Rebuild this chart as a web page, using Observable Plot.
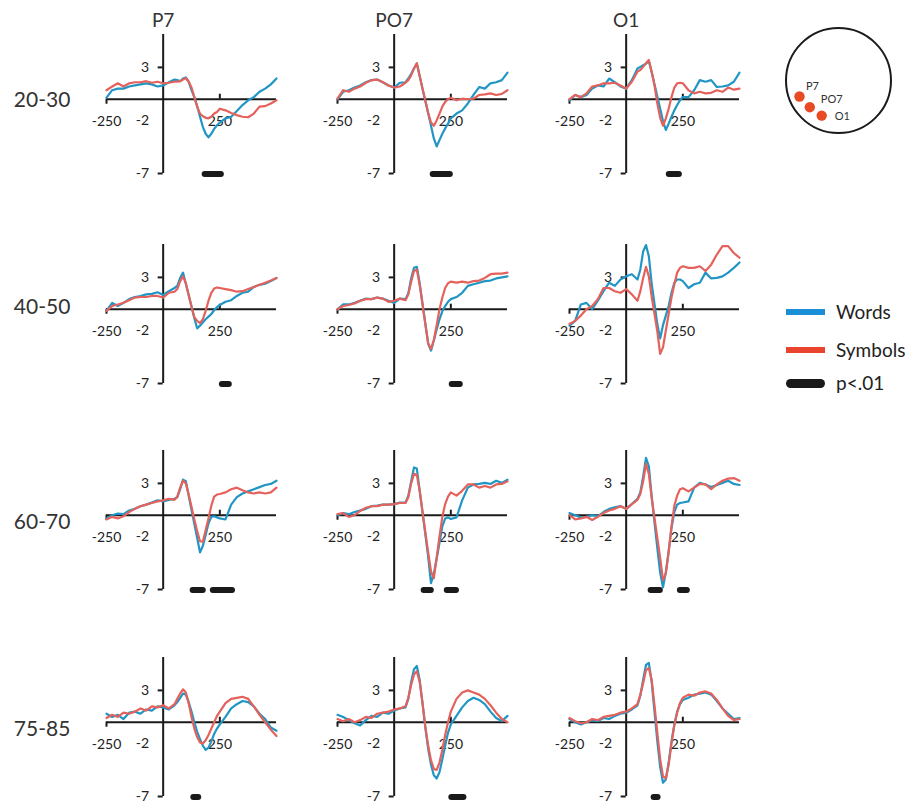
<!DOCTYPE html>
<html><head><meta charset="utf-8">
<script src="https://cdn.jsdelivr.net/npm/d3@7"></script>
<script src="https://cdn.jsdelivr.net/npm/@observablehq/plot@0.6"></script>
<style>
html,body{margin:0;padding:0;background:#fff;}
#chart{position:relative;width:909px;height:805px;overflow:hidden;font-family:Lato,"Open Sans",sans-serif;color:#222;background:#fff;}
#chart svg{position:absolute;}
.sw{position:absolute;left:786px;width:39px;}
.lt{position:absolute;left:836px;font-size:19px;line-height:20px;color:#222;white-space:nowrap;}
</style></head>
<body><div id="chart"></div>
<script>
// ---------- data ----------
const electrodes = ["P7", "PO7", "O1"];
const ageGroups = ["20-30", "40-50", "60-70", "75-85"];
const times = [-250,-225,-200,-175,-150,-125,-100,-75,-50,-25,0,25,50,62.5,75,87.5,100,112.5,125,137.5,150,162.5,175,187.5,200,212.5,225,237.5,250,275,300,325,350,375,400,425,450,475,500];

const words_2030_P7 = [0.15,0.85,1.0,1.0,1.2,1.3,1.4,1.5,1.4,1.2,1.3,1.6,1.85,1.8,1.7,1.95,2.05,1.65,0.85,0.2,-0.65,-1.65,-2.6,-3.25,-3.6,-3.25,-2.8,-2.45,-2.2,-1.8,-1.65,-1.1,-0.55,-0.1,0.2,0.7,1.0,1.4,1.95];
const symbols_2030_P7 = [0.85,1.2,1.5,1.2,1.5,1.6,1.6,1.7,1.55,1.65,1.5,1.55,1.65,1.65,1.7,1.85,2.0,1.65,1.1,0.2,-0.7,-1.35,-1.6,-1.75,-1.8,-1.65,-1.35,-1.2,-0.9,-1.05,-1.3,-1.5,-1.65,-1.7,-1.35,-0.7,-0.65,-0.4,-0.1];
const words_2030_PO7 = [0,0.7,0.85,1.1,1.3,1.6,1.8,1.85,1.6,1.3,1.1,1.55,1.6,1.95,2.4,2.9,3.35,2.2,1.0,-0.15,-1.3,-2.5,-3.7,-4.45,-3.85,-3.25,-2.75,-2.3,-1.8,-1.35,-1.05,-0.4,0.4,1.15,1.0,1.5,1.6,1.8,2.5];
const symbols_2030_PO7 = [0.05,0.85,0.7,1.0,1.2,1.55,1.8,1.85,1.6,1.3,1.1,1.2,1.55,1.8,2.25,2.9,3.4,2.2,1.0,-0.15,-1.3,-2.2,-2.5,-2.0,-1.35,-0.7,-0.25,0,0.15,-0.1,0.05,0,0.05,0.4,0.45,0.55,0.4,0.5,0.85];
const words_2030_O1 = [-0.1,0.4,0.2,0.4,1.0,1.3,1.2,1.95,1.6,1.2,1.0,1.8,2.9,3.05,3.2,3.35,3.6,2.55,1.4,0.25,-0.9,-2.05,-2.9,-2.3,-1.65,-1.05,-0.55,-0.1,0.2,0.2,0.85,1.8,1.65,1.8,1.15,1.2,1.3,1.65,2.5];
const symbols_2030_O1 = [0,0.4,0.2,0.55,1.2,1.3,1.5,1.5,1.55,1.3,1.0,1.65,2.6,2.75,3.05,3.4,3.7,2.6,1.3,-0.4,-1.75,-2.5,-1.8,-0.9,0.2,1.1,1.5,1.55,1.5,0.85,0.55,0.7,0.55,0.6,0.85,0.7,1.1,0.9,1.0];

const words_4050_P7 = [-0.15,0.6,0.3,0.6,0.95,1.15,1.25,1.4,1.45,1.6,1.35,1.7,2.0,2.2,2.95,3.45,2.4,1.35,0.25,-0.85,-1.8,-1.55,-1.25,-0.95,-0.7,-0.45,-0.1,0.2,0.4,0.7,0.85,1.25,1.55,1.65,2.1,2.3,2.4,2.65,2.95];
const symbols_4050_P7 = [-0.15,0.3,0.45,0.6,0.85,1.1,1.15,1.15,1.25,1.25,1.1,1.55,1.65,1.9,2.65,3.1,2.45,1.35,0.25,-0.75,-1.1,-1.3,-0.95,-0.15,0.8,1.55,1.95,2.05,2.0,1.9,1.8,1.65,1.7,1.9,2.1,2.3,2.5,2.7,2.95];
const words_4050_PO7 = [0,0.45,0.45,0.6,0.8,1.0,0.95,1.1,1.0,0.8,0.6,1.0,0.95,1.5,2.9,3.9,4.0,2.45,0.55,-1.35,-3.25,-3.9,-2.95,-1.9,-0.95,-0.2,0.3,0.7,0.95,1.15,1.55,2.2,2.35,2.5,2.65,2.7,2.9,3.0,3.1];
const symbols_4050_PO7 = [0,0.3,0.4,0.55,0.8,0.95,0.95,1.1,1.0,0.7,0.8,1.0,0.85,1.4,2.6,3.6,3.75,2.3,0.45,-1.4,-3.2,-3.75,-2.9,-1.5,0.0,1.1,2.0,2.45,2.6,2.5,2.6,2.5,2.65,2.7,2.95,3.3,3.35,3.35,3.45];
const words_4050_O1 = [-1.55,-1.1,0.45,0.6,0,0.8,1.7,2.5,2.2,2.8,3.1,3.3,2.8,3.75,5.45,6.05,5.0,2.4,0.5,-1.4,-2.75,-1.5,-0.6,0.3,1.55,2.5,2.8,2.8,2.65,2.0,2.35,2.5,3.45,2.9,2.95,3.1,3.45,3.9,4.4];
const symbols_4050_O1 = [-1.4,-1.1,-0.6,0,0.3,0.95,2.0,2.0,1.7,1.55,1.9,1.4,0.8,1.7,2.95,4.0,3.1,1.2,-0.45,-2.1,-4.2,-3.6,-2.0,-0.45,1.1,2.35,3.45,3.9,4.05,3.9,3.9,4.05,3.6,4.2,5.15,5.95,5.95,5.3,4.85];

const words_6070_P7 = [-0.3,0,0.15,0.1,0.45,0.6,0.85,1.0,1.2,1.4,1.3,1.45,1.55,1.7,2.45,3.35,3.2,1.85,0.5,-0.8,-2.15,-3.5,-2.9,-1.85,-0.75,-0.15,-0.1,-0.2,-0.3,-0.4,1.0,1.7,2.05,2.25,2.45,2.65,2.85,2.95,3.25];
const symbols_6070_P7 = [-0.4,-0.15,-0.3,-0.1,0.3,0.6,0.85,1.0,1.15,1.3,1.4,1.55,1.45,1.75,2.6,3.25,3.0,1.95,0.8,-0.4,-1.5,-2.45,-2.5,-1.4,-0.3,0.9,1.75,1.95,2.0,2.15,2.45,2.6,2.35,2.15,2.05,2.15,2.05,2.15,2.6];
const words_6070_PO7 = [0,0.2,0.1,0.3,0.45,0.6,0.85,0.9,1.0,1.0,1.05,1.2,1.2,1.85,3.2,4.5,4.4,2.35,0.3,-1.8,-3.9,-6.4,-5.5,-4.1,-2.6,-1.05,-0.3,-0.2,-0.35,-0.2,1.4,2.6,2.9,2.95,3.05,2.95,3.25,3.05,3.35];
const symbols_6070_PO7 = [0.1,0.2,-0.15,0,0.4,0.7,0.85,0.85,1.0,1.0,1.05,1.15,1.15,1.7,3.0,3.9,3.8,2.3,0.35,-1.6,-3.5,-5.3,-5.95,-4.0,-2.0,-0.15,1.05,1.75,2.15,1.85,2.3,2.9,2.9,2.6,2.75,2.6,2.9,2.95,3.2];
const words_6070_O1 = [0.2,0,-0.2,-0.15,0,-0.1,0.3,0.6,0.75,0.85,0.6,1.05,1.55,2.15,3.65,5.4,4.6,1.8,-0.7,-3.1,-5.4,-6.8,-5.35,-3.35,-1.2,0.3,1.0,1.15,1.2,1.3,2.6,3.05,2.9,2.65,2.85,3.05,3.25,2.95,2.85];
const symbols_6070_O1 = [0,-0.4,-0.3,-0.15,-0.45,-0.15,0.2,0.45,0.6,0.85,0.6,1.05,1.45,2.0,3.2,4.85,3.9,1.65,-0.25,-2.15,-4.05,-6.1,-5.5,-3.5,-1.05,0.9,1.85,2.45,2.55,2.25,2.6,2.95,2.9,2.45,2.9,3.25,3.45,3.5,3.25];

const words_7585_P7 = [0.8,0.5,0.7,0.3,0.9,1.0,0.8,1.2,1.1,1.5,1.4,1.2,1.6,1.9,2.3,2.7,2.6,1.9,1.0,0.0,-0.9,-1.6,-2.2,-2.6,-2.4,-1.8,-1.1,-0.6,-0.2,0.5,1.3,1.7,2.0,1.9,1.5,0.8,0.3,-0.5,-0.8];
const symbols_7585_P7 = [0.4,0.7,0.5,0.9,0.8,1.0,1.3,1.1,1.5,1.4,1.6,1.3,1.7,2.2,2.7,3.1,2.8,1.8,0.5,-0.6,-1.4,-1.9,-2.0,-1.7,-1.2,-0.6,0.0,0.6,1.0,1.8,2.2,2.3,2.4,2.2,1.5,0.7,0.0,-0.7,-1.3];
const words_7585_PO7 = [0.7,0.5,0.2,-0.1,-0.3,0.2,0.6,0.5,0.9,0.8,1.1,1.3,1.4,2.2,3.8,5.0,5.3,4.0,1.8,-0.5,-2.5,-4.0,-5.0,-5.3,-4.7,-3.5,-2.2,-1.0,-0.2,0.6,1.4,2.0,2.3,2.1,1.7,1.0,0.4,0.1,0.6];
const symbols_7585_PO7 = [0.3,0.1,0.3,0.0,0.2,0.5,0.4,0.8,0.9,1.0,1.2,1.3,1.5,2.3,3.5,4.5,4.8,3.8,1.8,-0.4,-2.2,-3.6,-4.4,-4.5,-3.8,-2.6,-1.2,0.0,1.0,2.2,2.8,3.0,2.8,2.6,2.2,1.6,0.9,0.3,0.0];
const words_7585_O1 = [0.3,0.0,-0.2,0.0,0.2,0.1,0.4,0.3,0.6,0.8,0.9,1.2,1.6,2.5,4.0,5.4,5.6,3.8,1.0,-1.8,-4.2,-5.7,-5.4,-3.8,-1.8,-0.2,1.0,1.7,2.1,2.3,2.6,2.7,2.8,2.6,2.0,1.3,0.8,0.3,0.4];
const symbols_7585_O1 = [0.4,0.1,-0.1,0.0,0.3,0.2,0.5,0.6,0.7,0.9,1.0,1.3,1.7,2.6,3.7,4.9,5.1,4.0,1.6,-1.0,-3.5,-5.1,-5.3,-4.0,-2.0,-0.3,0.9,1.8,2.3,2.6,2.5,2.8,2.9,2.7,2.1,1.3,0.6,0.2,0.3];

// significant intervals (ms), p<.01
const sig_2030_P7 = [[172, 270]];
const sig_2030_PO7 = [[159, 261]];
const sig_2030_O1 = [[177, 248]];
const sig_4050_P7 = [[248, 305]];
const sig_4050_PO7 = [[243, 305]];
const sig_4050_O1 = [];
const sig_6070_P7 = [[119, 190], [208, 319]];
const sig_6070_PO7 = [[119, 177], [221, 288]];
const sig_6070_O1 = [[97, 164], [226, 283]];
const sig_7585_P7 = [[122, 170]];
const sig_7585_PO7 = [[241, 321]];
const sig_7585_O1 = [[110, 154]];

// axes
const xDomain = [-250, 500];
const yDomain = [-7, 6.1];
const yTickValues = [3, -2, -7];
const yTickLabels = ["3", "-2", "-7"];
const yTickMarks = [3, -7];
const xTickValues = [-250, 250];
const xTickLabels = ["-250", "250"];

// legend & head
const legendLabels = ["Words", "Symbols", "p<.01"];
const headLabels = ["P7", "PO7", "O1"];
const headX = [-0.72, -0.53, -0.31];
const headY = [-0.315, -0.525, -0.69];

// ---------- build ----------
const S = {
  "20-30": {P7: [words_2030_P7, symbols_2030_P7, sig_2030_P7], PO7: [words_2030_PO7, symbols_2030_PO7, sig_2030_PO7], O1: [words_2030_O1, symbols_2030_O1, sig_2030_O1]},
  "40-50": {P7: [words_4050_P7, symbols_4050_P7, sig_4050_P7], PO7: [words_4050_PO7, symbols_4050_PO7, sig_4050_PO7], O1: [words_4050_O1, symbols_4050_O1, sig_4050_O1]},
  "60-70": {P7: [words_6070_P7, symbols_6070_P7, sig_6070_P7], PO7: [words_6070_PO7, symbols_6070_PO7, sig_6070_PO7], O1: [words_6070_O1, symbols_6070_O1, sig_6070_O1]},
  "75-85": {P7: [words_7585_P7, symbols_7585_P7, sig_7585_P7], PO7: [words_7585_PO7, symbols_7585_PO7, sig_7585_PO7], O1: [words_7585_O1, symbols_7585_O1, sig_7585_O1]}
};

const BLUE = "#2196c4", RED = "#e5625c", INK = "#1a1a1a";
const FONT = "Lato, 'Open Sans', sans-serif";
const colLeft = [105.7, 336.7, 569.3];
const rowZero = [99, 308.3, 515, 722];
const plotW = 170, plotH = 139;
const pxPerUnit = plotH / (yDomain[1] - yDomain[0]);
const rowLabelDy = [1, -2, 7, 7];

const chart = document.getElementById("chart");

ageGroups.forEach((age, r) => {
  electrodes.forEach((elec, c) => {
    const [w, s, sig] = S[age][elec];
    const rows = times.map((t, i) => ({t, w: w[i], s: s[i]}));
    const mL = c === 0 ? 100 : 60, mR = 8, mT = 32, mB = 14;
    const marks = [
      Plot.ruleY([0], {stroke: INK, strokeWidth: 2}),
      Plot.ruleX([0], {stroke: INK, strokeWidth: 2}),
      Plot.ruleY(yTickMarks, {x1: 0, x2: 0, insetLeft: -5, stroke: INK, strokeWidth: 2}),
      Plot.ruleX([xTickValues[0]], {y1: 0, y2: 0, insetBottom: -5, stroke: INK, strokeWidth: 2}),
      Plot.ruleX([xTickValues[1]], {y1: 0, y2: 0, insetTop: -5, stroke: INK, strokeWidth: 2}),
      Plot.text(yTickValues, {x: 0, y: d => d, text: (d, i) => yTickLabels[i], textAnchor: "end", dx: -14, fontSize: 14, fontFamily: FONT, fill: "#222"}),
      Plot.text(xTickValues, {x: d => d, y: 0, text: (d, i) => xTickLabels[i], dy: 22, fontSize: 14, fontFamily: FONT, fill: "#222"}),
      Plot.line(rows, {x: "t", y: "w", stroke: BLUE, strokeWidth: 2.2, strokeLinejoin: "round"}),
      Plot.line(rows, {x: "t", y: "s", stroke: RED, strokeWidth: 2.2, strokeLinejoin: "round"}),
      Plot.rect(sig, {x1: d => d[0], x2: d => d[1], y1: -6.82, y2: -7.38, fill: INK, rx: 3})
    ];
    if (r === 0) marks.push(Plot.text([elec], {x: 0, y: yDomain[1], dy: -13.5, fontSize: 19, fontFamily: FONT, fill: "#333"}));
    if (c === 0) marks.push(Plot.text([age], {x: xDomain[0], y: 0, dx: -(colLeft[0] - 13), dy: rowLabelDy[r], textAnchor: "start", fontSize: 21, fontFamily: FONT, fill: "#333"}));
    const svg = Plot.plot({
      width: mL + plotW + mR, height: mT + plotH + mB,
      marginLeft: mL, marginRight: mR, marginTop: mT, marginBottom: mB,
      x: {domain: xDomain, axis: null},
      y: {domain: yDomain, axis: null},
      style: {background: "transparent", overflow: "visible", fontFamily: FONT},
      marks
    });
    svg.style.position = "absolute";
    svg.style.left = (colLeft[c] - mL) + "px";
    svg.style.top = (rowZero[r] - yDomain[1] * pxPerUnit - mT) + "px";
    chart.appendChild(svg);
  });
});

// head diagram
const headData = headLabels.map((n, i) => ({n, x: headX[i], y: headY[i]}));
const labelOffset = {P7: [6.5, -10], PO7: [11, -7.5], O1: [13, 1]};
const headMarks = [
  Plot.dot([0], {x: 0, y: 0, r: 52.5, stroke: INK, strokeWidth: 2, fill: "none"}),
  Plot.dot(headData, {x: "x", y: "y", r: 5.2, fill: "#e84a24"})
];
headData.forEach(d => headMarks.push(Plot.text([d], {x: "x", y: "y", text: "n", dx: labelOffset[d.n][0], dy: labelOffset[d.n][1], textAnchor: "start", fontSize: 11, fontFamily: FONT, fill: "#333"})));
const head = Plot.plot({
  width: 130, height: 122, margin: 0,
  x: {domain: [-1.2, 1.2], axis: null},
  y: {domain: [-1.2, 1.2], axis: null},
  style: {background: "transparent", overflow: "visible", fontFamily: FONT},
  marks: headMarks
});
head.style.position = "absolute";
head.style.left = "772.5px";
head.style.top = "19px";
chart.appendChild(head);

// legend
const legendColors = ["#1b8fd6", "#e9442e", INK];
const swTop = [308.5, 347, 379], swH = [6, 6, 9], txtTop = [302.2, 339.5, 373];
legendLabels.forEach((lab, i) => {
  const sw = document.createElement("div");
  sw.className = "sw";
  sw.style.top = swTop[i] + "px";
  sw.style.height = swH[i] + "px";
  sw.style.background = legendColors[i];
  if (i === 2) sw.style.borderRadius = "4.5px";
  chart.appendChild(sw);
  const t = document.createElement("div");
  t.className = "lt";
  t.style.top = txtTop[i] + "px";
  t.textContent = lab;
  chart.appendChild(t);
});
</script>
</body></html>
